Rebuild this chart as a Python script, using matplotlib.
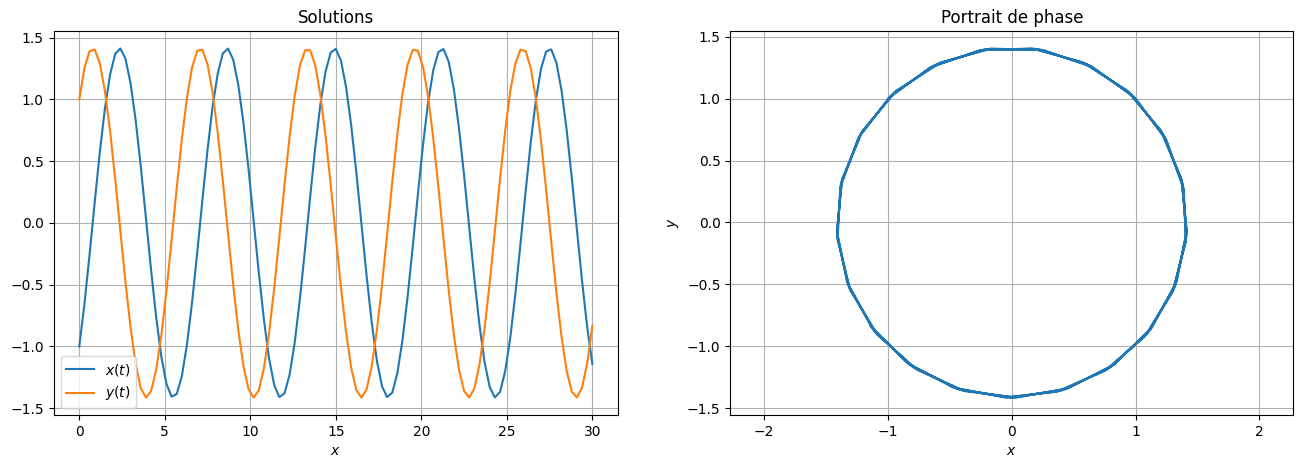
import matplotlib.pyplot as plt
import numpy as np

# ===== Data (101 samples on [0, 30]) =====
x_vals = [-1.000, -0.660, -0.261, 0.162, 0.570, 0.927, 1.201, 1.368, 1.413, 1.331,
          1.131, 0.830, 0.454, 0.038, -0.381, -0.767, -1.084, -1.304, -1.407, -1.385,
          -1.240, -0.983, -0.639, -0.237, 0.185, 0.591, 0.945, 1.213, 1.374, 1.412,
          1.323, 1.117, 0.810, 0.432, 0.014, -0.404, -0.787, -1.099, -1.313, -1.410,
          -1.380, -1.228, -0.966, -0.618, -0.214, 0.209, 0.613, 0.962, 1.225, 1.379,
          1.410, 1.315, 1.102, 0.791, 0.409, -0.009, -0.427, -0.806, -1.114, -1.322,
          -1.411, -1.375, -1.216, -0.948, -0.596, -0.190, 0.232, 0.634, 0.980, 1.237,
          1.384, 1.408, 1.306, 1.087, 0.771, 0.386, -0.033, -0.449, -0.826, -1.128,
          -1.330, -1.413, -1.369, -1.204, -0.931, -0.574, -0.167, 0.256, 0.655, 0.997,
          1.249, 1.389, 1.405, 1.296, 1.072, 0.751, 0.363, -0.057, -0.472, -0.845,
          -1.142]

y_vals = [1.000, 1.251, 1.390, 1.405, 1.294, 1.068, 0.747, 0.358, -0.062, -0.477,
          -0.849, -1.145, -1.339, -1.414, -1.362, -1.188, -0.909, -0.548, -0.138, 0.284,
          0.681, 1.017, 1.262, 1.394, 1.402, 1.285, 1.053, 0.726, 0.335, -0.086,
          -0.499, -0.868, -1.159, -1.347, -1.414, -1.355, -1.175, -0.890, -0.526, -0.114,
          0.307, 0.702, 1.033, 1.272, 1.398, 1.399, 1.275, 1.036, 0.706, 0.312,
          -0.109, -0.521, -0.886, -1.173, -1.354, -1.414, -1.348, -1.162, -0.872, -0.504,
          -0.091, 0.330, 0.722, 1.049, 1.282, 1.401, 1.395, 1.264, 1.020, 0.685,
          0.289, -0.133, -0.543, -0.905, -1.186, -1.361, -1.414, -1.341, -1.148, -0.853,
          -0.482, -0.067, 0.353, 0.742, 1.065, 1.292, 1.404, 1.391, 1.253, 1.004,
          0.664, 0.266, -0.157, -0.565, -0.923, -1.198, -1.367, -1.413, -1.333, -1.134,
          -0.834]

t_start, t_end = 0, 30
t = np.linspace(t_start, t_end, len(x_vals))

# ===== Figure =====
W, H = 1303, 468
fig = plt.figure(figsize=(W / 100, H / 100), dpi=100)

ax1 = fig.add_axes([53.6 / W, 53 / H, (618 - 53.6) / W, 384 / H])
ax2 = fig.add_axes([730.3 / W, 53 / H, (1293.3 - 730.3) / W, 384 / H])

# ===== Solutions =====
ax1.plot(t, x_vals, label='$x(t)$')
ax1.plot(t, y_vals, label='$y(t)$')
ax1.grid(True)
ax1.set_xlabel('$x$')
ax1.set_title('Solutions')
ax1.legend(loc='lower left')

# ===== Portrait de phase =====
ax2.plot(x_vals, y_vals)
ax2.grid(True)
ax2.axis('equal')
ax2.set_xlabel('$x$')
ax2.set_ylabel('$y$')
ax2.set_title('Portrait de phase')

fig.savefig('out.png', dpi=100)
